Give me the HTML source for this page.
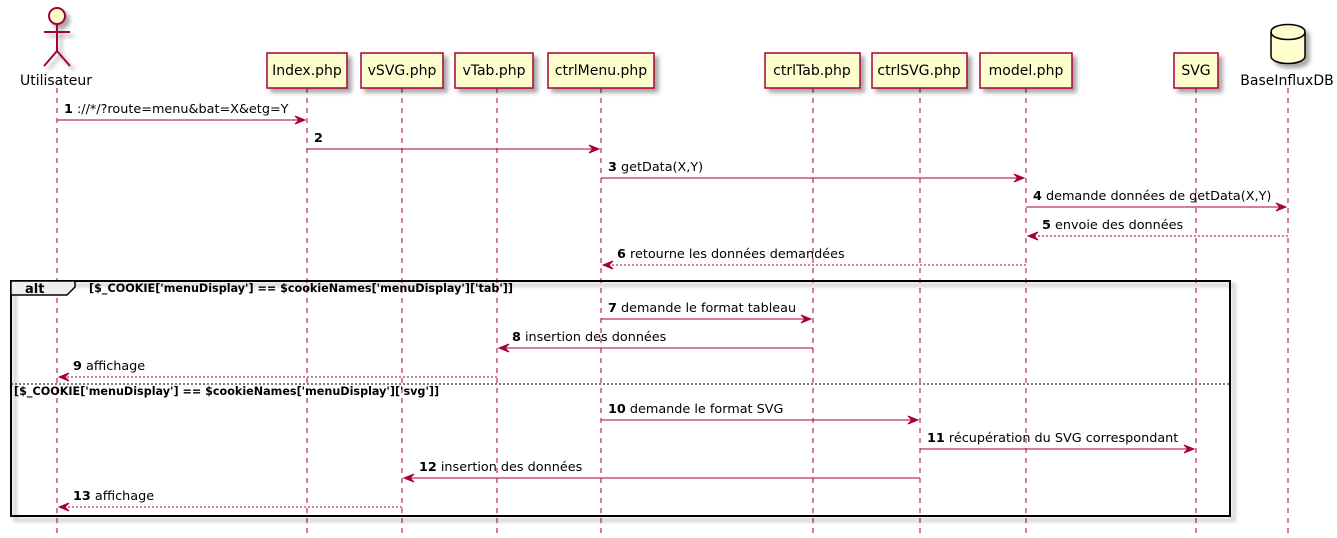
<!DOCTYPE html>
<html><head><meta charset="utf-8"><style>
html,body{margin:0;padding:0;background:#fff;}
svg{display:block;}
text{font-family:"DejaVu Sans","Liberation Sans",sans-serif;}
</style></head><body>
<svg width="1337" height="538" viewBox="0 0 1337 538" xmlns="http://www.w3.org/2000/svg">
<defs>
<filter id="sh" x="-20%" y="-20%" width="150%" height="150%"><feGaussianBlur in="SourceAlpha" stdDeviation="2"/><feOffset dx="4" dy="4"/><feComponentTransfer><feFuncA type="linear" slope="0.35"/></feComponentTransfer><feMerge><feMergeNode/><feMergeNode in="SourceGraphic"/></feMerge></filter>
</defs>
<g stroke="#A80036" stroke-width="1" stroke-dasharray="5,5">
<line x1="57" y1="88" x2="57" y2="535"/>
<line x1="307" y1="88" x2="307" y2="535"/>
<line x1="402" y1="88" x2="402" y2="535"/>
<line x1="497" y1="88" x2="497" y2="535"/>
<line x1="601" y1="88" x2="601" y2="535"/>
<line x1="813" y1="88" x2="813" y2="535"/>
<line x1="920" y1="88" x2="920" y2="535"/>
<line x1="1026" y1="88" x2="1026" y2="535"/>
<line x1="1196" y1="88" x2="1196" y2="535"/>
<line x1="1288" y1="88" x2="1288" y2="535"/>
</g>
<g filter="url(#sh)" stroke="#A80036" stroke-width="2" fill="#FEFECE">
<circle cx="57" cy="16" r="8"/>
<path d="M57 24 V51 M44 32 H70 M57 51 L44 66 M57 51 L70 66" fill="none"/>
</g>
<text x="56" y="85" font-size="14" text-anchor="middle" fill="#000">Utilisateur</text>
<g filter="url(#sh)" fill="#FEFECE" stroke="#A80036" stroke-width="1.5">
<rect x="267" y="53" width="80" height="35"/>
<rect x="361" y="53" width="82" height="35"/>
<rect x="455" y="53" width="78" height="35"/>
<rect x="548" y="53" width="106" height="35"/>
<rect x="765" y="53" width="95" height="35"/>
<rect x="872" y="53" width="95" height="35"/>
<rect x="980" y="53" width="92" height="35"/>
<rect x="1174" y="53" width="44" height="35"/>
</g>
<g font-size="14" text-anchor="middle" fill="#000">
<text x="307" y="75">Index.php</text>
<text x="402" y="75">vSVG.php</text>
<text x="494" y="75">vTab.php</text>
<text x="601" y="75">ctrlMenu.php</text>
<text x="812" y="75">ctrlTab.php</text>
<text x="919" y="75">ctrlSVG.php</text>
<text x="1026" y="75">model.php</text>
<text x="1196" y="75">SVG</text>
<text x="1287" y="85">BaseInfluxDB</text>
</g>
<g filter="url(#sh)" fill="#FEFECE" stroke="#000" stroke-width="1.5">
<path d="M1271 32 C1271 22 1305 22 1305 32 V56 C1305 66 1271 66 1271 56 Z"/>
<path d="M1271 32 C1271 42 1305 42 1305 32" fill="none"/>
</g>
<g filter="url(#sh)"><rect x="11" y="281" width="1219" height="235" fill="none" stroke="#000" stroke-width="2"/></g>
<path d="M11 281 H75 V287 L67 295 H11 Z" fill="#EEEEEE" stroke="#000" stroke-width="1.5"/>
<text x="25" y="293" font-size="13" font-weight="bold">alt</text>
<text x="89" y="292" font-size="11.2" font-weight="bold">[$_COOKIE['menuDisplay'] == $cookieNames['menuDisplay']['tab']]</text>
<line x1="11" y1="384" x2="1230" y2="384" stroke="#000" stroke-width="1" stroke-dasharray="2,2"/>
<text x="14" y="395" font-size="11.2" font-weight="bold">[$_COOKIE['menuDisplay'] == $cookieNames['menuDisplay']['svg']]</text>
<g stroke="#A80036" stroke-width="1" fill="#A80036">
<line x1="57" y1="120" x2="305" y2="120"/><path d="M295 116 L305 120 L295 124 L299 120 Z"/>
<line x1="307" y1="149" x2="599" y2="149"/><path d="M589 145 L599 149 L589 153 L593 149 Z"/>
<line x1="601" y1="178" x2="1024" y2="178"/><path d="M1014 174 L1024 178 L1014 182 L1018 178 Z"/>
<line x1="1026" y1="207" x2="1286" y2="207"/><path d="M1276 203 L1286 207 L1276 211 L1280 207 Z"/>
<line x1="1288" y1="236" x2="1028" y2="236" stroke-dasharray="2,2"/><path d="M1038 232 L1028 236 L1038 240 L1034 236 Z"/>
<line x1="1026" y1="265" x2="603" y2="265" stroke-dasharray="2,2"/><path d="M613 261 L603 265 L613 269 L609 265 Z"/>
<line x1="601" y1="319" x2="811" y2="319"/><path d="M801 315 L811 319 L801 323 L805 319 Z"/>
<line x1="813" y1="348" x2="499" y2="348"/><path d="M509 344 L499 348 L509 352 L505 348 Z"/>
<line x1="497" y1="377" x2="59" y2="377" stroke-dasharray="2,2"/><path d="M69 373 L59 377 L69 381 L65 377 Z"/>
<line x1="601" y1="420" x2="918" y2="420"/><path d="M908 416 L918 420 L908 424 L912 420 Z"/>
<line x1="920" y1="449" x2="1194" y2="449"/><path d="M1184 445 L1194 449 L1184 453 L1188 449 Z"/>
<line x1="920" y1="478" x2="404" y2="478"/><path d="M414 474 L404 478 L414 482 L410 478 Z"/>
<line x1="402" y1="507" x2="59" y2="507" stroke-dasharray="2,2"/><path d="M69 503 L59 507 L69 511 L65 507 Z"/>
</g>
<g font-size="12.8" fill="#000">
<text x="64" y="113"><tspan font-weight="bold">1</tspan> ://*/?route=menu&amp;bat=X&amp;etg=Y</text>
<text x="314" y="142"><tspan font-weight="bold">2</tspan></text>
<text x="608" y="171"><tspan font-weight="bold">3</tspan> getData(X,Y)</text>
<text x="1033" y="200"><tspan font-weight="bold">4</tspan> demande données de getData(X,Y)</text>
<text x="1042" y="229"><tspan font-weight="bold">5</tspan> envoie des données</text>
<text x="617" y="258"><tspan font-weight="bold">6</tspan> retourne les données demandées</text>
<text x="608" y="312"><tspan font-weight="bold">7</tspan> demande le format tableau</text>
<text x="512" y="341"><tspan font-weight="bold">8</tspan> insertion des données</text>
<text x="73" y="370"><tspan font-weight="bold">9</tspan> affichage</text>
<text x="608" y="413"><tspan font-weight="bold">10</tspan> demande le format SVG</text>
<text x="927" y="442"><tspan font-weight="bold">11</tspan> récupération du SVG correspondant</text>
<text x="419" y="471"><tspan font-weight="bold">12</tspan> insertion des données</text>
<text x="73" y="500"><tspan font-weight="bold">13</tspan> affichage</text>
</g>
</svg>
</body></html>
